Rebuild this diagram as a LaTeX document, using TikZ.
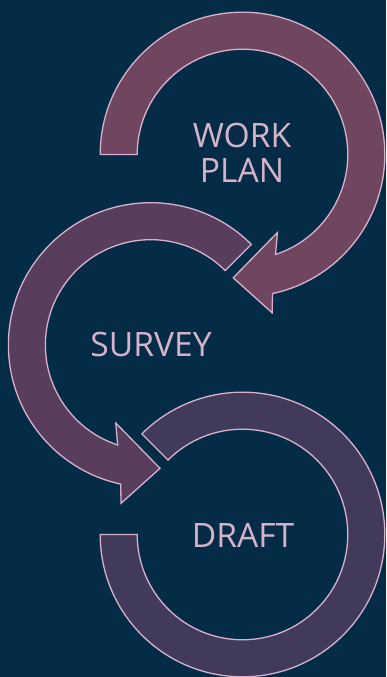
\documentclass[tikz,border=0pt]{standalone}
\usepackage{fontspec}
\setmainfont{Open Sans}
\usetikzlibrary{calc}
\definecolor{bgc}{HTML}{052C47}
\definecolor{ringA}{HTML}{70455F}
\definecolor{ringB}{HTML}{583D5C}
\definecolor{ringC}{HTML}{413A5A}
\definecolor{edgec}{HTML}{D8B2CC}
\definecolor{txtc}{HTML}{D4B3CB}
\tikzset{
  ring/.style={draw=edgec, line width=1.3pt, line join=miter},
  lbl/.style={text=txtc, font=\fontsize{33.6}{35.5}\selectfont, align=center, inner sep=0pt}
}
\def\Ro{142.3}
\def\Ri{105.3}
\begin{document}
\begin{tikzpicture}[x=1pt,y=1pt]
\fill[bgc] (0,0) rectangle (386,677);
\useasboundingbox (0,0) rectangle (386,677);
% ring 3 (DRAFT)
\begin{scope}[shift={(242.5,142.5)}]
\draw[ring, fill=ringC] (180:\Ro) arc[start angle=180, end angle=495, radius=\Ro]
  -- (495:\Ri) arc[start angle=495, end angle=180, radius=\Ri] -- cycle;
\end{scope}
% ring 2 (SURVEY)
\begin{scope}[shift={(150.7,332)}]
\draw[ring, fill=ringB] (45:\Ro) arc[start angle=45, end angle=257.8, radius=\Ro]
  -- (259.4:161) -- (274.3:123.7) -- (245.9:85.5) -- (251.7:\Ri)
  arc[start angle=251.7, end angle=45, radius=\Ri] -- cycle;
\end{scope}
% ring 1 (WORK PLAN)
\begin{scope}[shift={(242.5,522.5)}]
\draw[ring, fill=ringA] (180:\Ro) arc[start angle=180, end angle=-77.8, radius=\Ro]
  -- (-79.4:161) -- (-94.3:123.7) -- (-65.9:85.5) -- (-71.7:\Ri)
  arc[start angle=-71.7, end angle=180, radius=\Ri] -- cycle;
\end{scope}
\node[lbl] (work) at (242,524) {WORK\\PLAN};
\node[lbl] (survey) at (151,332.7) {SURVEY};
\node[lbl] (draft) at (243,141.7) {DRAFT};
\end{tikzpicture}
\end{document}
